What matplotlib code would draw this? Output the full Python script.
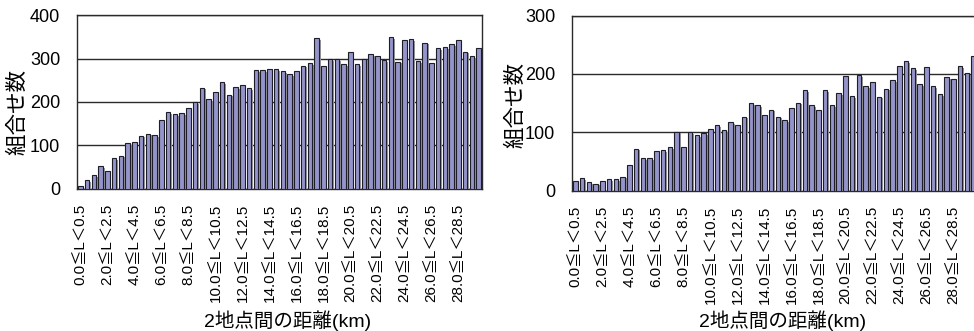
import matplotlib
matplotlib.use("Agg")
import matplotlib.pyplot as plt
import matplotlib.patheffects as pe

plt.rcParams['font.family'] = ['Liberation Sans', 'Noto Sans CJK JP', 'DejaVu Sans']

# distance classes, 0.5 km wide, 0.0 to 30.0 km
lower_km = [i * 0.5 for i in range(60)]
categories = [f"{a:.1f}≦L＜{a + 0.5:.1f}" for a in lower_km]

# number of point pairs per distance class
counts_left = [5, 19, 31, 52, 40, 71, 76, 105, 107, 122,
               127, 123, 159, 177, 172, 174, 185, 199, 233, 206,
               224, 245, 217, 235, 238, 231, 274, 274, 276, 276,
               272, 264, 272, 284, 290, 347, 284, 299, 298, 287,
               315, 287, 300, 310, 307, 296, 349, 293, 342, 345,
               295, 337, 290, 325, 326, 333, 342, 316, 305, 325]

counts_right = [16, 21, 14, 12, 17, 20, 20, 24, 43, 72,
                56, 56, 68, 70, 75, 101, 75, 100, 95, 98,
                106, 112, 104, 117, 112, 127, 150, 147, 129, 139,
                127, 121, 142, 151, 172, 147, 138, 172, 147, 167,
                197, 162, 198, 179, 186, 161, 175, 189, 213, 222,
                210, 183, 212, 179, 166, 194, 191, 213, 202, 231]

y_ticks_left = [0, 100, 200, 300, 400]
y_ticks_right = [0, 100, 200, 300]

ylabel = "組合せ数"
xlabel = "2地点間の距離(km)"

W, H = 974, 331
fig = plt.figure(figsize=(W / 100, H / 100), dpi=100)
fig.patch.set_facecolor("white")


def px_axes(x0, x1, ytop, ybot):
    return fig.add_axes([x0 / W, 1 - ybot / H, (x1 - x0) / W, (ybot - ytop) / H])


def draw_panel(ax, values, yticks, ylabel_x, ylabel_y, xlabel_y):
    x = list(range(len(values)))
    bars = ax.bar(x, values, width=0.68, color="#9494CA", edgecolor="#1e1e28",
                  linewidth=0.8, zorder=3)
    for b in bars:
        b.set_path_effects([
            pe.SimplePatchShadow(offset=(1.3, -1.3), shadow_rgbFace="#969696", alpha=1.0),
            pe.Normal(),
        ])
    ax.set_xlim(-0.5, len(values) - 0.5)
    ax.set_ylim(yticks[0], yticks[-1])
    ax.set_yticks(yticks)
    ax.set_yticklabels([str(t) for t in yticks], fontsize=13)
    ax.set_xticks(x[::4])
    ax.set_xticklabels(categories[::4], rotation=90, fontsize=11)
    ax.tick_params(axis="both", length=0)
    ax.tick_params(axis="y", pad=12)
    ax.tick_params(axis="x", pad=11)
    ax.yaxis.grid(True, color="#2a2a2a", linewidth=1.0, zorder=0)
    ax.set_axisbelow(True)
    for s in ax.spines.values():
        s.set_color("#2a2a2a")
        s.set_linewidth(1.0)
    ax.set_ylabel(ylabel, fontsize=15.5)
    ax.yaxis.set_label_coords(ylabel_x, ylabel_y)
    ax.set_xlabel(xlabel, fontsize=14, va="center")
    ax.xaxis.set_label_coords(0.52, xlabel_y)


ax1 = px_axes(77, 482, 15.3, 188.5)
draw_panel(ax1, counts_left, y_ticks_left, -0.12, 0.44, (188.5 - 320.5) / 173.2)

ax2 = px_axes(572, 977, 15.7, 190.5)
draw_panel(ax2, counts_right, y_ticks_right, -0.113, 0.49, (190.5 - 320.5) / 174.8)

fig.savefig("out.png", dpi=100, facecolor="white")
